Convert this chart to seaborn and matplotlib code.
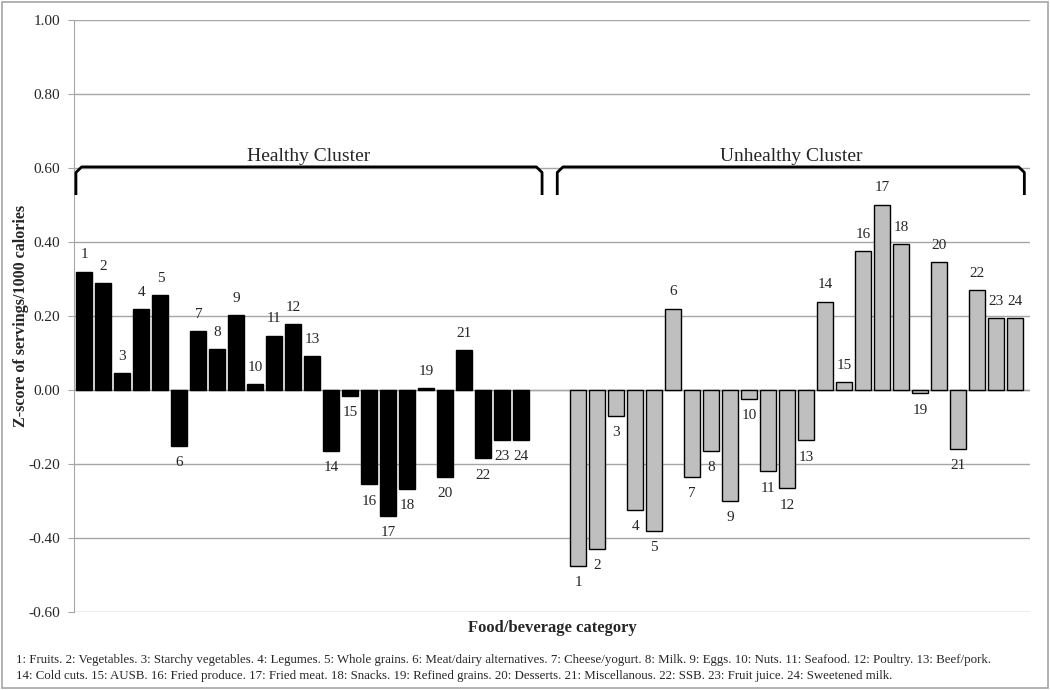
import matplotlib
matplotlib.use("Agg")
import matplotlib.pyplot as plt
import numpy as np
import pandas as pd
import seaborn as sns

# Data
categories = list(range(1, 25))
healthy = [0.320, 0.289, 0.046, 0.218, 0.256, -0.150, 0.159, 0.111, 0.203, 0.015,
           0.147, 0.179, 0.092, -0.164, -0.016, -0.255, -0.341, -0.268, 0.005, -0.235,
           0.107, -0.185, -0.135, -0.135]
unhealthy = [-0.475, -0.429, -0.069, -0.323, -0.380, 0.220, -0.235, -0.164, -0.300, -0.023,
             -0.220, -0.266, -0.136, 0.239, 0.021, 0.375, 0.501, 0.394, -0.009, 0.345,
             -0.159, 0.271, 0.195, 0.195]
yticks = [-0.6, -0.4, -0.2, 0.0, 0.2, 0.4, 0.6, 0.8, 1.0]
footnote = ("1: Fruits. 2: Vegetables. 3: Starchy vegetables. 4: Legumes. 5: Whole grains. "
            "6: Meat/dairy alternatives. 7: Cheese/yogurt. 8: Milk. 9: Eggs. 10: Nuts. 11: Seafood. "
            "12: Poultry. 13: Beef/pork.\n"
            "14: Cold cuts. 15: AUSB. 16: Fried produce. 17: Fried meat. 18: Snacks. "
            "19: Refined grains. 20: Desserts. 21: Miscellanous. 22: SSB. 23: Fruit juice. "
            "24: Sweetened milk.")

# two clusters side by side with a two-slot gap between them
n = len(categories)
pos = list(range(n)) + list(range(n + 2, 2 * n + 2))
df = pd.DataFrame({
    "pos": pos,
    "value": healthy + unhealthy,
    "cluster": ["Healthy"] * n + ["Unhealthy"] * n,
    "label": categories + categories,
})

sns.set_style("white")
plt.rcParams["font.family"] = ["Liberation Serif", "DejaVu Serif"]

fig = plt.figure(figsize=(10.5, 6.9), dpi=100)
ax = fig.add_axes([0.0705, 0.113, 0.9105, 0.858])

sns.barplot(data=df, x="pos", y="value", hue="cluster", native_scale=True,
            palette={"Healthy": "black", "Unhealthy": "#BFBFBF"}, dodge=False,
            width=0.84, edgecolor="black", linewidth=1.0, errorbar=None,
            legend=False, ax=ax, zorder=3)

for _, r in df.iterrows():
    off = 12 if r["value"] >= 0 else -12
    ax.annotate(str(r["label"]), (r["pos"], r["value"]), xytext=(0, off),
                textcoords="offset points", ha="center", va="center", fontsize=11)

ax.set_ylim(-0.6, 1.0)
ax.set_xlim(-0.55, 2 * n + 1.8)
ax.set_yticks(yticks)
ax.set_yticklabels([f"{t:.2f}" for t in yticks], fontsize=11)
ax.set_xticks([])
ax.yaxis.grid(True, color="#A6A6A6", linewidth=1.0, zorder=0)
ax.axhline(0, color="#A6A6A6", linewidth=1.0, zorder=2)
ax.tick_params(axis="y", direction="out", length=4, color="#A6A6A6", left=True, pad=6)
for s in ["top", "right", "bottom"]:
    ax.spines[s].set_visible(False)
ax.spines["left"].set_color("#A6A6A6")
ax.set_xlabel("Food/beverage category", fontsize=12, fontweight="bold", labelpad=6)
ax.set_ylabel("Z-score of servings/1000 calories", fontsize=11.6, fontweight="bold", labelpad=-0.5)

# cluster brackets
def bracket(x0, x1, text):
    top, bot = 0.603, 0.527
    xs = [x0, x0, x0 + 0.3, x1 - 0.3, x1, x1]
    ys = [bot, top - 0.015, top, top, top - 0.015, bot]
    ax.plot(xs, ys, color="black", linewidth=2.0, solid_capstyle="butt", zorder=4)
    ax.text((x0 + x1) / 2, top + 0.027, text, ha="center", va="center", fontsize=14)

bracket(-0.45, 24.1, "Healthy Cluster")
bracket(24.9, 49.5, "Unhealthy Cluster")

fig.text(0.015, 0.032, footnote, ha="left", va="center", fontsize=9.3, linespacing=1.5)

# outer frame of the figure
fig.patches.append(plt.Rectangle((0.002, 0.003), 0.996, 0.994, transform=fig.transFigure,
                                 fill=False, edgecolor="#A6A6A6", linewidth=1.2))

fig.savefig("out.png", dpi=100)
